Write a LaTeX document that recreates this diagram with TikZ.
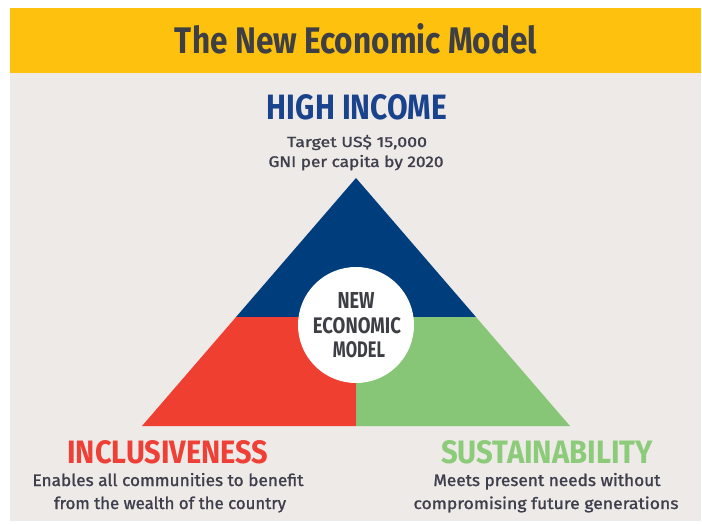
\documentclass[tikz,border=0pt]{standalone}
\usepackage{graphicx}
\usepackage{fontspec}
\usetikzlibrary{calc}
\setmainfont{Fira Sans}
\newfontfamily\headfont{Fira Sans}[BoldFont={* Bold}]
\newfontfamily\bodyfont{Fira Sans}[FakeBold=1.2]
\definecolor{banner}{HTML}{FEC10E}
\definecolor{bg}{HTML}{EEEAE7}
\definecolor{tblue}{HTML}{003D7C}
\definecolor{tred}{HTML}{EE3F30}
\definecolor{tgreen}{HTML}{87C676}
\definecolor{titlegray}{HTML}{3D3F44}
\definecolor{bodygray}{HTML}{3E3E4C}
\definecolor{hblue}{HTML}{1A438E}
\definecolor{hred}{HTML}{EF4037}
\definecolor{hgreen}{HTML}{8CCB7A}
\newcommand\fitbox[3]{\resizebox{#1pt}{#2pt}{#3}}
\begin{document}
\begin{tikzpicture}[x=1pt,y=-1pt,
  txt/.style={inner sep=0pt,outer sep=0pt,anchor=base},
  head/.style={txt,font=\headfont\bfseries},
  body/.style={txt,font=\bodyfont,text=bodygray}]
\useasboundingbox (0,0) rectangle (702,524);
\fill[white] (0,0) rectangle (702,524);
\fill[banner] (10,8) rectangle (701,73);
\fill[bg] (10,73) rectangle (701,521);
% triangle
\coordinate (apex) at (356,178);
\coordinate (bl) at (142,426);
\coordinate (br) at (570,426);
\coordinate (ml) at ($(apex)!0.5605!(bl)$);
\coordinate (mr) at ($(apex)!0.5605!(br)$);
\coordinate (mc) at (356,317);
\coordinate (bc) at (356,426);
\fill[tblue] (apex) -- (ml) -- (mr) -- cycle;
\fill[tred] (ml) -- (mc) -- (bc) -- (bl) -- cycle;
\fill[tgreen] (mc) -- (mr) -- (br) -- (bc) -- cycle;
\node[circle,fill=white,minimum size=116pt,inner sep=0pt] (core) at (356,325) {};
% texts
\node[head,text=titlegray] (title) at (356,53.5) {\fitbox{362}{30}{The New Economic Model}};
\node[head,text=hblue] (high) at (357,120) {\fitbox{180}{25}{HIGH INCOME}};
\node[body] (hi1) at (357,147) {\fitbox{140}{12}{Target US\$ 15,000}};
\node[body] (hi2) at (356,167) {\fitbox{175}{12}{GNI per capita by 2020}};
\node[head,text=titlegray] (c1) at (356,308) {\fitbox{37}{16}{NEW}};
\node[head,text=titlegray] (c2) at (357,333) {\fitbox{88}{16}{ECONOMIC}};
\node[head,text=titlegray] (c3) at (359,357) {\fitbox{52}{16}{MODEL}};
\node[head,text=hred] (inc) at (168,463) {\fitbox{201}{23}{INCLUSIVENESS}};
\node[body] (inc1) at (168,486) {\fitbox{271}{13}{Enables all communities to benefit}};
\node[body] (inc2) at (170,509) {\fitbox{232}{12.5}{from the wealth of the country}};
\node[head,text=hgreen] (sus) at (547,463) {\fitbox{212}{23}{SUSTAINABILITY}};
\node[body] (sus1) at (547,486) {\fitbox{227}{13}{Meets present needs without}};
\node[body] (sus2) at (546,509) {\fitbox{265}{12.5}{compromising future generations}};
\end{tikzpicture}
\end{document}
